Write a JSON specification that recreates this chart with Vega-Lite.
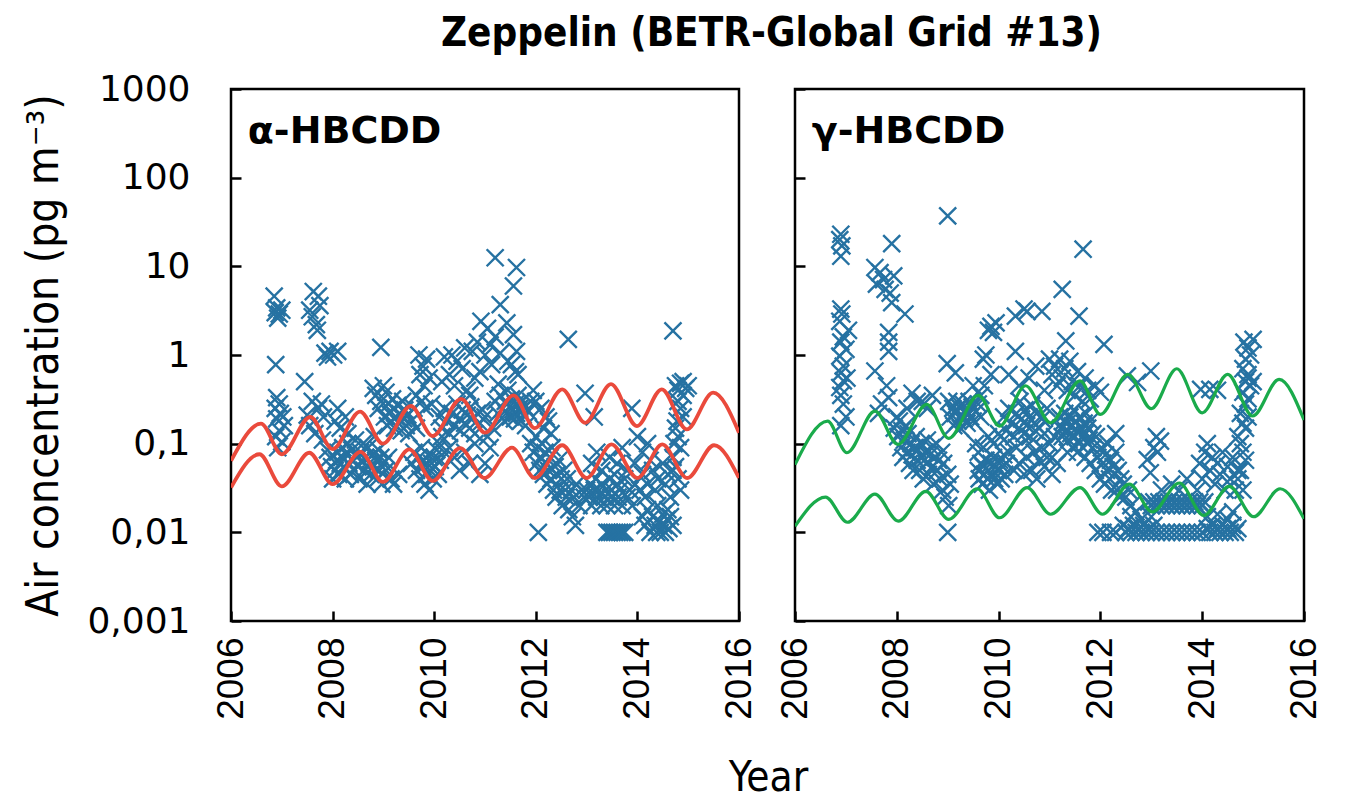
{
  "$schema": "https://vega.github.io/schema/vega-lite/v6.json",
  "background": "white",
  "padding": {"left": 21, "top": 13, "right": 10, "bottom": 0},
  "title": {"text": "Zeppelin (BETR-Global Grid #13)", "font": "'Liberation Sans Narrow', 'DejaVu Sans Condensed', sans-serif", "fontSize": 40, "fontWeight": "bold", "anchor": "middle", "offset": 16, "dx": 99, "color": "black"},
  "spacing": 56,
  "bounds": "flush",
  "datasets": {
    "obs": [
      {"p":"a","t":2006.85,"v":4.6},{"p":"a","t":2006.9,"v":3.4},{"p":"a","t":2006.87,"v":3.0},{"p":"a","t":2006.95,"v":2.9},{"p":"a","t":2006.92,"v":2.6},{"p":"a","t":2007.0,"v":3.2},{"p":"a","t":2006.88,"v":0.78},{"p":"a","t":2006.9,"v":0.33},{"p":"a","t":2006.95,"v":0.28},{"p":"a","t":2006.87,"v":0.25},{"p":"a","t":2006.97,"v":0.22},{"p":"a","t":2007.02,"v":0.2},{"p":"a","t":2006.9,"v":0.19},{"p":"a","t":2007.05,"v":0.16},{"p":"a","t":2006.95,"v":0.14},{"p":"a","t":2007.0,"v":0.105},{"p":"a","t":2006.92,"v":0.09},{"p":"a","t":2006.88,"v":0.12},
      {"p":"a","t":2007.55,"v":3.2},{"p":"a","t":2007.62,"v":5.2},{"p":"a","t":2007.72,"v":4.6},{"p":"a","t":2007.6,"v":2.7},{"p":"a","t":2007.75,"v":3.6},{"p":"a","t":2007.68,"v":2.2},{"p":"a","t":2007.7,"v":1.9},{"p":"a","t":2007.85,"v":1.05},{"p":"a","t":2007.9,"v":0.95},{"p":"a","t":2007.95,"v":1.1},{"p":"a","t":2008.02,"v":1.0},{"p":"a","t":2008.1,"v":1.1},{"p":"a","t":2007.45,"v":0.5},{"p":"a","t":2007.6,"v":0.3},{"p":"a","t":2007.72,"v":0.25},{"p":"a","t":2007.78,"v":0.28},{"p":"a","t":2007.82,"v":0.2},{"p":"a","t":2007.55,"v":0.16},{"p":"a","t":2007.65,"v":0.13},{"p":"a","t":2007.8,"v":0.11},{"p":"a","t":2007.9,"v":0.085},{"p":"a","t":2007.95,"v":0.07},{"p":"a","t":2007.98,"v":0.055},{"p":"a","t":2007.5,"v":0.21},
      {"p":"a","t":2008.0,"v":0.04},{"p":"a","t":2008.05,"v":0.05},{"p":"a","t":2008.08,"v":0.065},{"p":"a","t":2008.1,"v":0.08},{"p":"a","t":2008.12,"v":0.045},{"p":"a","t":2008.15,"v":0.06},{"p":"a","t":2008.18,"v":0.07},{"p":"a","t":2008.2,"v":0.09},{"p":"a","t":2008.22,"v":0.055},{"p":"a","t":2008.25,"v":0.04},{"p":"a","t":2008.28,"v":0.075},{"p":"a","t":2008.3,"v":0.1},{"p":"a","t":2008.32,"v":0.06},{"p":"a","t":2008.35,"v":0.045},{"p":"a","t":2008.38,"v":0.085},{"p":"a","t":2008.4,"v":0.065},{"p":"a","t":2008.42,"v":0.05},{"p":"a","t":2008.45,"v":0.11},{"p":"a","t":2008.48,"v":0.07},{"p":"a","t":2008.5,"v":0.055},{"p":"a","t":2008.52,"v":0.04},{"p":"a","t":2008.55,"v":0.08},{"p":"a","t":2008.58,"v":0.065},{"p":"a","t":2008.6,"v":0.1},{"p":"a","t":2008.62,"v":0.05},{"p":"a","t":2008.65,"v":0.07},{"p":"a","t":2008.68,"v":0.035},{"p":"a","t":2008.7,"v":0.09},{"p":"a","t":2008.72,"v":0.06},{"p":"a","t":2008.75,"v":0.045},{"p":"a","t":2008.78,"v":0.075},{"p":"a","t":2008.8,"v":0.055},{"p":"a","t":2008.82,"v":0.12},{"p":"a","t":2008.85,"v":0.065},{"p":"a","t":2008.88,"v":0.04},{"p":"a","t":2008.9,"v":0.085},{"p":"a","t":2008.92,"v":0.05},{"p":"a","t":2008.95,"v":0.07},{"p":"a","t":2008.97,"v":0.035},{"p":"a","t":2009.0,"v":0.06},
      {"p":"a","t":2008.05,"v":0.18},{"p":"a","t":2008.1,"v":0.25},{"p":"a","t":2008.15,"v":0.15},{"p":"a","t":2008.25,"v":0.2},{"p":"a","t":2008.3,"v":0.13},
      {"p":"a","t":2008.8,"v":0.42},{"p":"a","t":2008.85,"v":0.35},{"p":"a","t":2008.9,"v":0.25},{"p":"a","t":2008.95,"v":0.3},{"p":"a","t":2009.0,"v":0.45},{"p":"a","t":2009.02,"v":0.2},{"p":"a","t":2009.05,"v":0.38},{"p":"a","t":2009.08,"v":0.16},{"p":"a","t":2009.1,"v":0.28},{"p":"a","t":2009.12,"v":0.22},{"p":"a","t":2009.15,"v":0.18},{"p":"a","t":2009.18,"v":0.32},{"p":"a","t":2009.2,"v":0.25},{"p":"a","t":2009.22,"v":0.15},{"p":"a","t":2009.25,"v":0.2},{"p":"a","t":2009.28,"v":0.27},{"p":"a","t":2009.3,"v":0.17},{"p":"a","t":2009.32,"v":0.22},{"p":"a","t":2009.35,"v":0.14},{"p":"a","t":2009.38,"v":0.3},{"p":"a","t":2009.4,"v":0.19},{"p":"a","t":2009.42,"v":0.24},{"p":"a","t":2009.45,"v":0.16},{"p":"a","t":2009.48,"v":0.21},{"p":"a","t":2009.5,"v":0.13},{"p":"a","t":2009.55,"v":0.18},{"p":"a","t":2009.6,"v":0.25},{"p":"a","t":2009.65,"v":0.15},{"p":"a","t":2008.95,"v":1.22},
      {"p":"a","t":2009.05,"v":0.05},{"p":"a","t":2009.1,"v":0.07},{"p":"a","t":2009.15,"v":0.04},{"p":"a","t":2009.2,"v":0.035},{"p":"a","t":2009.3,"v":0.045},
      {"p":"a","t":2009.7,"v":1.0},{"p":"a","t":2009.85,"v":0.9},{"p":"a","t":2009.78,"v":0.75},{"p":"a","t":2009.72,"v":0.6},{"p":"a","t":2009.9,"v":0.55},{"p":"a","t":2009.8,"v":0.45},{"p":"a","t":2009.65,"v":0.35},{"p":"a","t":2009.75,"v":0.3},{"p":"a","t":2009.82,"v":0.25},{"p":"a","t":2009.95,"v":0.28},
      {"p":"a","t":2009.55,"v":0.06},{"p":"a","t":2009.6,"v":0.08},{"p":"a","t":2009.65,"v":0.05},{"p":"a","t":2009.7,"v":0.07},{"p":"a","t":2009.72,"v":0.04},{"p":"a","t":2009.75,"v":0.09},{"p":"a","t":2009.78,"v":0.055},{"p":"a","t":2009.8,"v":0.065},{"p":"a","t":2009.82,"v":0.035},{"p":"a","t":2009.85,"v":0.045},{"p":"a","t":2009.88,"v":0.075},{"p":"a","t":2009.9,"v":0.03},{"p":"a","t":2009.92,"v":0.05},{"p":"a","t":2009.95,"v":0.06},{"p":"a","t":2009.98,"v":0.04},{"p":"a","t":2010.0,"v":0.07},{"p":"a","t":2010.02,"v":0.055},{"p":"a","t":2010.05,"v":0.085},{"p":"a","t":2010.08,"v":0.045},{"p":"a","t":2010.1,"v":0.1},{"p":"a","t":2010.12,"v":0.065},{"p":"a","t":2010.15,"v":0.12},{"p":"a","t":2010.2,"v":0.08},
      {"p":"a","t":2010.2,"v":0.95},{"p":"a","t":2010.35,"v":1.0},{"p":"a","t":2010.45,"v":0.85},{"p":"a","t":2010.6,"v":1.2},{"p":"a","t":2010.75,"v":1.1},{"p":"a","t":2010.85,"v":1.4},{"p":"a","t":2010.92,"v":2.4},
      {"p":"a","t":2010.15,"v":0.5},{"p":"a","t":2010.3,"v":0.6},{"p":"a","t":2010.4,"v":0.45},{"p":"a","t":2010.55,"v":0.7},{"p":"a","t":2010.65,"v":0.4},{"p":"a","t":2010.8,"v":0.55},{"p":"a","t":2010.9,"v":0.65},{"p":"a","t":2010.7,"v":0.35},
      {"p":"a","t":2010.1,"v":0.2},{"p":"a","t":2010.15,"v":0.15},{"p":"a","t":2010.2,"v":0.25},{"p":"a","t":2010.25,"v":0.18},{"p":"a","t":2010.3,"v":0.13},{"p":"a","t":2010.35,"v":0.22},{"p":"a","t":2010.4,"v":0.16},{"p":"a","t":2010.45,"v":0.28},{"p":"a","t":2010.5,"v":0.19},{"p":"a","t":2010.52,"v":0.14},{"p":"a","t":2010.55,"v":0.24},{"p":"a","t":2010.6,"v":0.17},{"p":"a","t":2010.65,"v":0.21},{"p":"a","t":2010.7,"v":0.15},{"p":"a","t":2010.72,"v":0.26},{"p":"a","t":2010.75,"v":0.19},{"p":"a","t":2010.8,"v":0.13},{"p":"a","t":2010.85,"v":0.22},{"p":"a","t":2010.9,"v":0.17},{"p":"a","t":2010.95,"v":0.24},{"p":"a","t":2011.0,"v":0.2},
      {"p":"a","t":2010.3,"v":0.09},{"p":"a","t":2010.4,"v":0.07},{"p":"a","t":2010.5,"v":0.05},{"p":"a","t":2010.6,"v":0.08},{"p":"a","t":2010.7,"v":0.06},{"p":"a","t":2010.8,"v":0.1},{"p":"a","t":2010.9,"v":0.045},
      {"p":"a","t":2011.2,"v":12.5},{"p":"a","t":2011.62,"v":9.7},{"p":"a","t":2011.56,"v":6.0},{"p":"a","t":2011.3,"v":3.7},{"p":"a","t":2011.43,"v":2.3},{"p":"a","t":2011.2,"v":1.6},{"p":"a","t":2011.56,"v":1.7},{"p":"a","t":2011.62,"v":1.1},{"p":"a","t":2011.13,"v":0.78},{"p":"a","t":2011.52,"v":0.78},{"p":"a","t":2011.26,"v":0.47},{"p":"a","t":2011.65,"v":0.6},{"p":"a","t":2011.05,"v":2.0},{"p":"a","t":2011.1,"v":1.3},{"p":"a","t":2011.0,"v":1.0},{"p":"a","t":2011.3,"v":1.05},{"p":"a","t":2011.45,"v":0.85},{"p":"a","t":2011.6,"v":0.65},
      {"p":"a","t":2011.2,"v":0.3},{"p":"a","t":2011.25,"v":0.22},{"p":"a","t":2011.3,"v":0.35},{"p":"a","t":2011.35,"v":0.25},{"p":"a","t":2011.38,"v":0.18},{"p":"a","t":2011.4,"v":0.3},{"p":"a","t":2011.42,"v":0.22},{"p":"a","t":2011.45,"v":0.4},{"p":"a","t":2011.48,"v":0.26},{"p":"a","t":2011.5,"v":0.2},{"p":"a","t":2011.52,"v":0.32},{"p":"a","t":2011.55,"v":0.24},{"p":"a","t":2011.58,"v":0.19},{"p":"a","t":2011.6,"v":0.28},{"p":"a","t":2011.62,"v":0.22},{"p":"a","t":2011.65,"v":0.35},{"p":"a","t":2011.68,"v":0.25},{"p":"a","t":2011.7,"v":0.18},{"p":"a","t":2011.72,"v":0.3},{"p":"a","t":2011.75,"v":0.21},{"p":"a","t":2011.78,"v":0.26},{"p":"a","t":2011.8,"v":0.16},{"p":"a","t":2011.85,"v":0.23},{"p":"a","t":2011.9,"v":0.3},
      {"p":"a","t":2011.05,"v":0.12},{"p":"a","t":2011.1,"v":0.09},{"p":"a","t":2011.15,"v":0.15},{"p":"a","t":2011.0,"v":0.06},
      {"p":"a","t":2011.95,"v":0.4},{"p":"a","t":2012.0,"v":0.3},{"p":"a","t":2012.1,"v":0.25},{"p":"a","t":2012.2,"v":0.2},{"p":"a","t":2012.64,"v":1.5},{"p":"a","t":2012.97,"v":0.37},{"p":"a","t":2013.15,"v":0.2},
      {"p":"a","t":2011.9,"v":0.1},{"p":"a","t":2011.95,"v":0.08},{"p":"a","t":2012.0,"v":0.12},{"p":"a","t":2012.02,"v":0.06},{"p":"a","t":2012.05,"v":0.09},{"p":"a","t":2012.08,"v":0.05},{"p":"a","t":2012.1,"v":0.07},{"p":"a","t":2012.12,"v":0.1},{"p":"a","t":2012.15,"v":0.045},{"p":"a","t":2012.18,"v":0.08},{"p":"a","t":2012.2,"v":0.06},{"p":"a","t":2012.22,"v":0.035},{"p":"a","t":2012.25,"v":0.05},{"p":"a","t":2012.28,"v":0.07},{"p":"a","t":2012.3,"v":0.04},{"p":"a","t":2012.32,"v":0.09},{"p":"a","t":2012.35,"v":0.03},{"p":"a","t":2012.38,"v":0.055},{"p":"a","t":2012.4,"v":0.025},{"p":"a","t":2012.42,"v":0.045},{"p":"a","t":2012.45,"v":0.065},{"p":"a","t":2012.48,"v":0.03},{"p":"a","t":2012.5,"v":0.04},{"p":"a","t":2012.52,"v":0.02},{"p":"a","t":2012.55,"v":0.05},{"p":"a","t":2012.58,"v":0.03},{"p":"a","t":2012.6,"v":0.025},{"p":"a","t":2012.62,"v":0.04},{"p":"a","t":2012.65,"v":0.018},{"p":"a","t":2012.7,"v":0.03},{"p":"a","t":2012.72,"v":0.015},{"p":"a","t":2012.75,"v":0.025},{"p":"a","t":2012.78,"v":0.012},{"p":"a","t":2012.8,"v":0.035},{"p":"a","t":2012.85,"v":0.02},{"p":"a","t":2012.9,"v":0.03},{"p":"a","t":2012.95,"v":0.025},{"p":"a","t":2012.05,"v":0.01},{"p":"a","t":2012.15,"v":0.15},{"p":"a","t":2012.3,"v":0.13},{"p":"a","t":2012.25,"v":0.18},
      {"p":"a","t":2013.0,"v":0.03},{"p":"a","t":2013.05,"v":0.025},{"p":"a","t":2013.08,"v":0.035},{"p":"a","t":2013.1,"v":0.02},{"p":"a","t":2013.15,"v":0.03},{"p":"a","t":2013.18,"v":0.04},{"p":"a","t":2013.2,"v":0.025},{"p":"a","t":2013.25,"v":0.03},{"p":"a","t":2013.28,"v":0.02},{"p":"a","t":2013.3,"v":0.035},{"p":"a","t":2013.35,"v":0.025},{"p":"a","t":2013.38,"v":0.03},{"p":"a","t":2013.4,"v":0.02},{"p":"a","t":2013.45,"v":0.04},{"p":"a","t":2013.48,"v":0.025},{"p":"a","t":2013.5,"v":0.03},{"p":"a","t":2013.55,"v":0.02},{"p":"a","t":2013.6,"v":0.035},{"p":"a","t":2013.62,"v":0.025},{"p":"a","t":2013.65,"v":0.03},{"p":"a","t":2013.7,"v":0.02},{"p":"a","t":2013.75,"v":0.04},{"p":"a","t":2013.8,"v":0.025},{"p":"a","t":2013.85,"v":0.03},{"p":"a","t":2013.9,"v":0.02},{"p":"a","t":2013.95,"v":0.035},
      {"p":"a","t":2013.4,"v":0.01},{"p":"a","t":2013.45,"v":0.01},{"p":"a","t":2013.5,"v":0.01},{"p":"a","t":2013.55,"v":0.01},{"p":"a","t":2013.6,"v":0.01},{"p":"a","t":2013.65,"v":0.01},{"p":"a","t":2013.7,"v":0.01},{"p":"a","t":2013.75,"v":0.01},
      {"p":"a","t":2013.1,"v":0.06},{"p":"a","t":2013.2,"v":0.08},{"p":"a","t":2013.3,"v":0.05},{"p":"a","t":2013.45,"v":0.07},{"p":"a","t":2013.6,"v":0.06},{"p":"a","t":2013.7,"v":0.09},{"p":"a","t":2013.8,"v":0.05},{"p":"a","t":2013.89,"v":0.25},{"p":"a","t":2014.0,"v":0.12},{"p":"a","t":2013.55,"v":0.045},{"p":"a","t":2013.95,"v":0.06},
      {"p":"a","t":2014.1,"v":0.015},{"p":"a","t":2014.15,"v":0.012},{"p":"a","t":2014.2,"v":0.018},{"p":"a","t":2014.25,"v":0.01},{"p":"a","t":2014.3,"v":0.015},{"p":"a","t":2014.35,"v":0.012},{"p":"a","t":2014.38,"v":0.01},{"p":"a","t":2014.4,"v":0.02},{"p":"a","t":2014.42,"v":0.013},{"p":"a","t":2014.45,"v":0.01},{"p":"a","t":2014.5,"v":0.016},{"p":"a","t":2014.52,"v":0.012},{"p":"a","t":2014.55,"v":0.01},{"p":"a","t":2014.58,"v":0.014},{"p":"a","t":2014.6,"v":0.018},{"p":"a","t":2014.62,"v":0.011},{"p":"a","t":2014.65,"v":0.015},{"p":"a","t":2014.7,"v":0.012},
      {"p":"a","t":2014.05,"v":0.03},{"p":"a","t":2014.1,"v":0.045},{"p":"a","t":2014.15,"v":0.025},{"p":"a","t":2014.2,"v":0.035},{"p":"a","t":2014.3,"v":0.05},{"p":"a","t":2014.35,"v":0.03},{"p":"a","t":2014.4,"v":0.04},{"p":"a","t":2014.5,"v":0.06},{"p":"a","t":2014.55,"v":0.035},{"p":"a","t":2014.6,"v":0.045},{"p":"a","t":2014.65,"v":0.025},{"p":"a","t":2014.7,"v":0.05},{"p":"a","t":2014.1,"v":0.08},{"p":"a","t":2014.2,"v":0.1},{"p":"a","t":2014.25,"v":0.065},
      {"p":"a","t":2014.7,"v":1.87},{"p":"a","t":2014.75,"v":0.45},{"p":"a","t":2014.8,"v":0.4},{"p":"a","t":2014.85,"v":0.48},{"p":"a","t":2014.9,"v":0.35},{"p":"a","t":2014.95,"v":0.42},{"p":"a","t":2014.8,"v":0.3},{"p":"a","t":2014.85,"v":0.25},{"p":"a","t":2014.9,"v":0.2},{"p":"a","t":2014.75,"v":0.15},{"p":"a","t":2014.8,"v":0.12},{"p":"a","t":2014.85,"v":0.09},{"p":"a","t":2014.7,"v":0.07},{"p":"a","t":2014.75,"v":0.055},{"p":"a","t":2014.8,"v":0.04},{"p":"a","t":2014.85,"v":0.03},{"p":"a","t":2014.9,"v":0.5},{"p":"a","t":2015.0,"v":0.45},{"p":"a","t":2014.78,"v":0.18},{"p":"a","t":2014.72,"v":0.1},
      {"p":"g","t":2006.9,"v":23},{"p":"g","t":2006.88,"v":20},{"p":"g","t":2006.92,"v":17},{"p":"g","t":2006.9,"v":13},{"p":"g","t":2006.9,"v":3.3},{"p":"g","t":2006.92,"v":2.9},{"p":"g","t":2006.88,"v":2.4},{"p":"g","t":2006.95,"v":1.6},{"p":"g","t":2006.9,"v":1.4},{"p":"g","t":2007.0,"v":1.16},{"p":"g","t":2006.88,"v":0.97},{"p":"g","t":2006.95,"v":0.75},{"p":"g","t":2006.9,"v":0.63},{"p":"g","t":2006.95,"v":0.51},{"p":"g","t":2006.88,"v":0.43},{"p":"g","t":2006.9,"v":0.35},{"p":"g","t":2006.95,"v":0.28},{"p":"g","t":2007.0,"v":0.2},{"p":"g","t":2006.9,"v":0.16},{"p":"g","t":2007.05,"v":1.9},{"p":"g","t":2007.02,"v":0.55},
      {"p":"g","t":2007.9,"v":18},{"p":"g","t":2007.57,"v":9.7},{"p":"g","t":2007.67,"v":8.5},{"p":"g","t":2007.74,"v":7.1},{"p":"g","t":2007.6,"v":6.3},{"p":"g","t":2007.77,"v":5.5},{"p":"g","t":2007.87,"v":5.0},{"p":"g","t":2007.94,"v":7.8},{"p":"g","t":2007.9,"v":3.9},{"p":"g","t":2008.16,"v":2.9},{"p":"g","t":2007.84,"v":1.8},{"p":"g","t":2007.84,"v":1.4},{"p":"g","t":2007.84,"v":1.1},{"p":"g","t":2007.57,"v":0.66},{"p":"g","t":2007.84,"v":0.33},{"p":"g","t":2007.64,"v":0.22},{"p":"g","t":2007.8,"v":0.45},{"p":"g","t":2007.7,"v":0.28},
      {"p":"g","t":2009.0,"v":37},{"p":"g","t":2008.99,"v":0.8},{"p":"g","t":2009.15,"v":0.63},{"p":"g","t":2008.3,"v":0.37},{"p":"g","t":2008.5,"v":0.3},{"p":"g","t":2008.4,"v":0.3},{"p":"g","t":2008.6,"v":0.25},{"p":"g","t":2008.7,"v":0.35},{"p":"g","t":2008.2,"v":0.25},
      {"p":"g","t":2007.95,"v":0.15},{"p":"g","t":2008.0,"v":0.2},{"p":"g","t":2008.02,"v":0.12},{"p":"g","t":2008.05,"v":0.18},{"p":"g","t":2008.08,"v":0.09},{"p":"g","t":2008.1,"v":0.14},{"p":"g","t":2008.12,"v":0.07},{"p":"g","t":2008.15,"v":0.11},{"p":"g","t":2008.18,"v":0.16},{"p":"g","t":2008.2,"v":0.08},{"p":"g","t":2008.22,"v":0.13},{"p":"g","t":2008.25,"v":0.06},{"p":"g","t":2008.28,"v":0.1},{"p":"g","t":2008.3,"v":0.075},{"p":"g","t":2008.32,"v":0.05},{"p":"g","t":2008.35,"v":0.09},{"p":"g","t":2008.38,"v":0.12},{"p":"g","t":2008.4,"v":0.065},{"p":"g","t":2008.42,"v":0.085},{"p":"g","t":2008.45,"v":0.05},{"p":"g","t":2008.48,"v":0.1},{"p":"g","t":2008.5,"v":0.07},{"p":"g","t":2008.52,"v":0.04},{"p":"g","t":2008.55,"v":0.08},{"p":"g","t":2008.58,"v":0.06},{"p":"g","t":2008.6,"v":0.11},{"p":"g","t":2008.62,"v":0.045},{"p":"g","t":2008.65,"v":0.075},{"p":"g","t":2008.68,"v":0.09},{"p":"g","t":2008.7,"v":0.055},{"p":"g","t":2008.72,"v":0.035},{"p":"g","t":2008.75,"v":0.07},{"p":"g","t":2008.78,"v":0.1},{"p":"g","t":2008.8,"v":0.05},{"p":"g","t":2008.82,"v":0.065},{"p":"g","t":2008.85,"v":0.04},{"p":"g","t":2008.88,"v":0.08},{"p":"g","t":2008.9,"v":0.03},{"p":"g","t":2008.92,"v":0.06},{"p":"g","t":2008.95,"v":0.025},{"p":"g","t":2009.0,"v":0.045},{"p":"g","t":2009.02,"v":0.02},{"p":"g","t":2009.05,"v":0.035},{"p":"g","t":2009.0,"v":0.01},
      {"p":"g","t":2009.02,"v":0.3},{"p":"g","t":2009.05,"v":0.2},{"p":"g","t":2009.1,"v":0.25},{"p":"g","t":2009.12,"v":0.16},{"p":"g","t":2009.15,"v":0.22},{"p":"g","t":2009.18,"v":0.3},{"p":"g","t":2009.2,"v":0.18},{"p":"g","t":2009.22,"v":0.26},{"p":"g","t":2009.25,"v":0.15},{"p":"g","t":2009.28,"v":0.21},{"p":"g","t":2009.3,"v":0.28},{"p":"g","t":2009.32,"v":0.19},{"p":"g","t":2009.35,"v":0.24},{"p":"g","t":2009.38,"v":0.17},{"p":"g","t":2009.4,"v":0.22},{"p":"g","t":2009.42,"v":0.3},{"p":"g","t":2009.45,"v":0.2},{"p":"g","t":2009.48,"v":0.26},{"p":"g","t":2009.5,"v":0.18},{"p":"g","t":2009.55,"v":0.23},{"p":"g","t":2009.6,"v":0.28},{"p":"g","t":2009.65,"v":0.2},
      {"p":"g","t":2009.6,"v":0.05},{"p":"g","t":2009.62,"v":0.04},{"p":"g","t":2009.65,"v":0.06},{"p":"g","t":2009.68,"v":0.035},{"p":"g","t":2009.7,"v":0.055},{"p":"g","t":2009.72,"v":0.045},{"p":"g","t":2009.75,"v":0.065},{"p":"g","t":2009.78,"v":0.04},{"p":"g","t":2009.8,"v":0.05},{"p":"g","t":2009.82,"v":0.03},{"p":"g","t":2009.85,"v":0.06},{"p":"g","t":2009.88,"v":0.045},{"p":"g","t":2009.9,"v":0.07},{"p":"g","t":2009.92,"v":0.04},{"p":"g","t":2009.95,"v":0.055},{"p":"g","t":2009.98,"v":0.035},{"p":"g","t":2010.0,"v":0.05},{"p":"g","t":2010.02,"v":0.065},{"p":"g","t":2010.05,"v":0.04},{"p":"g","t":2010.08,"v":0.055},{"p":"g","t":2010.1,"v":0.075},{"p":"g","t":2010.12,"v":0.045},{"p":"g","t":2010.15,"v":0.06},
      {"p":"g","t":2009.55,"v":0.1},{"p":"g","t":2009.7,"v":0.09},{"p":"g","t":2009.8,"v":0.12},{"p":"g","t":2009.9,"v":0.1},{"p":"g","t":2010.0,"v":0.13},{"p":"g","t":2010.1,"v":0.11},{"p":"g","t":2009.6,"v":0.08},
      {"p":"g","t":2009.8,"v":1.9},{"p":"g","t":2009.85,"v":2.1},{"p":"g","t":2009.9,"v":1.8},{"p":"g","t":2009.75,"v":1.0},{"p":"g","t":2009.95,"v":2.3},{"p":"g","t":2009.7,"v":0.9},{"p":"g","t":2009.72,"v":0.45},{"p":"g","t":2009.65,"v":0.35},{"p":"g","t":2009.85,"v":0.6},{"p":"g","t":2009.5,"v":0.45},
      {"p":"g","t":2010.33,"v":2.75},{"p":"g","t":2010.5,"v":3.3},{"p":"g","t":2010.56,"v":3.1},{"p":"g","t":2010.85,"v":3.1},{"p":"g","t":2010.33,"v":1.1},{"p":"g","t":2010.73,"v":0.75},{"p":"g","t":2010.6,"v":0.55},{"p":"g","t":2010.4,"v":0.45},{"p":"g","t":2010.9,"v":0.4},{"p":"g","t":2010.2,"v":0.6},
      {"p":"g","t":2010.1,"v":0.2},{"p":"g","t":2010.15,"v":0.14},{"p":"g","t":2010.2,"v":0.25},{"p":"g","t":2010.25,"v":0.17},{"p":"g","t":2010.3,"v":0.12},{"p":"g","t":2010.35,"v":0.22},{"p":"g","t":2010.4,"v":0.15},{"p":"g","t":2010.42,"v":0.3},{"p":"g","t":2010.45,"v":0.19},{"p":"g","t":2010.5,"v":0.13},{"p":"g","t":2010.52,"v":0.24},{"p":"g","t":2010.55,"v":0.16},{"p":"g","t":2010.6,"v":0.2},{"p":"g","t":2010.62,"v":0.12},{"p":"g","t":2010.65,"v":0.27},{"p":"g","t":2010.7,"v":0.17},{"p":"g","t":2010.72,"v":0.14},{"p":"g","t":2010.75,"v":0.22},{"p":"g","t":2010.8,"v":0.15},{"p":"g","t":2010.85,"v":0.19},{"p":"g","t":2010.9,"v":0.13},{"p":"g","t":2010.95,"v":0.25},
      {"p":"g","t":2010.2,"v":0.08},{"p":"g","t":2010.3,"v":0.05},{"p":"g","t":2010.35,"v":0.09},{"p":"g","t":2010.4,"v":0.06},{"p":"g","t":2010.5,"v":0.045},{"p":"g","t":2010.55,"v":0.07},{"p":"g","t":2010.6,"v":0.1},{"p":"g","t":2010.65,"v":0.05},{"p":"g","t":2010.7,"v":0.08},{"p":"g","t":2010.75,"v":0.04},{"p":"g","t":2010.8,"v":0.065},{"p":"g","t":2010.85,"v":0.09},{"p":"g","t":2010.9,"v":0.055},{"p":"g","t":2010.95,"v":0.07},
      {"p":"g","t":2011.66,"v":15.6},{"p":"g","t":2011.25,"v":5.5},{"p":"g","t":2011.58,"v":2.75},{"p":"g","t":2012.07,"v":1.32},{"p":"g","t":2011.32,"v":1.44},
      {"p":"g","t":2011.0,"v":0.9},{"p":"g","t":2011.05,"v":0.6},{"p":"g","t":2011.1,"v":0.75},{"p":"g","t":2011.15,"v":0.45},{"p":"g","t":2011.2,"v":0.9},{"p":"g","t":2011.25,"v":0.55},{"p":"g","t":2011.3,"v":0.7},{"p":"g","t":2011.35,"v":0.4},{"p":"g","t":2011.4,"v":0.85},{"p":"g","t":2011.45,"v":0.5},{"p":"g","t":2011.5,"v":0.35},{"p":"g","t":2011.55,"v":0.65},{"p":"g","t":2011.6,"v":0.45},{"p":"g","t":2011.65,"v":0.3},{"p":"g","t":2011.7,"v":0.55},{"p":"g","t":2011.75,"v":0.4},{"p":"g","t":2011.8,"v":0.32},{"p":"g","t":2011.9,"v":0.45},{"p":"g","t":2012.0,"v":0.38},
      {"p":"g","t":2011.2,"v":0.2},{"p":"g","t":2011.22,"v":0.15},{"p":"g","t":2011.25,"v":0.12},{"p":"g","t":2011.28,"v":0.18},{"p":"g","t":2011.3,"v":0.22},{"p":"g","t":2011.32,"v":0.14},{"p":"g","t":2011.35,"v":0.17},{"p":"g","t":2011.38,"v":0.11},{"p":"g","t":2011.4,"v":0.2},{"p":"g","t":2011.42,"v":0.13},{"p":"g","t":2011.45,"v":0.16},{"p":"g","t":2011.48,"v":0.24},{"p":"g","t":2011.5,"v":0.12},{"p":"g","t":2011.52,"v":0.18},{"p":"g","t":2011.55,"v":0.14},{"p":"g","t":2011.58,"v":0.1},{"p":"g","t":2011.6,"v":0.2},{"p":"g","t":2011.62,"v":0.15},{"p":"g","t":2011.65,"v":0.12},{"p":"g","t":2011.68,"v":0.17},{"p":"g","t":2011.7,"v":0.13},{"p":"g","t":2011.72,"v":0.22},{"p":"g","t":2011.75,"v":0.15},{"p":"g","t":2011.78,"v":0.11},{"p":"g","t":2011.8,"v":0.18},{"p":"g","t":2011.85,"v":0.13},{"p":"g","t":2011.45,"v":0.09},{"p":"g","t":2011.55,"v":0.08},{"p":"g","t":2011.35,"v":0.08},
      {"p":"g","t":2011.0,"v":0.1},{"p":"g","t":2011.05,"v":0.07},{"p":"g","t":2011.1,"v":0.12},{"p":"g","t":2011.15,"v":0.06},{"p":"g","t":2011.05,"v":0.045},
      {"p":"g","t":2011.7,"v":0.07},{"p":"g","t":2011.75,"v":0.1},{"p":"g","t":2011.8,"v":0.06},{"p":"g","t":2011.85,"v":0.09},{"p":"g","t":2011.9,"v":0.05},{"p":"g","t":2011.92,"v":0.12},{"p":"g","t":2011.95,"v":0.07},{"p":"g","t":2012.0,"v":0.04},{"p":"g","t":2012.02,"v":0.09},{"p":"g","t":2012.05,"v":0.06},{"p":"g","t":2012.08,"v":0.035},{"p":"g","t":2012.1,"v":0.075},{"p":"g","t":2012.12,"v":0.05},{"p":"g","t":2012.15,"v":0.1},{"p":"g","t":2012.18,"v":0.04},{"p":"g","t":2012.2,"v":0.065},{"p":"g","t":2012.22,"v":0.03},{"p":"g","t":2012.25,"v":0.055},{"p":"g","t":2012.28,"v":0.045},{"p":"g","t":2012.3,"v":0.08},{"p":"g","t":2012.32,"v":0.03},{"p":"g","t":2012.35,"v":0.05},{"p":"g","t":2012.38,"v":0.025},{"p":"g","t":2012.4,"v":0.04},{"p":"g","t":2012.45,"v":0.035},{"p":"g","t":2012.5,"v":0.025},{"p":"g","t":2012.55,"v":0.03},{"p":"g","t":2012.6,"v":0.02},{"p":"g","t":2012.3,"v":0.13},
      {"p":"g","t":2011.95,"v":0.01},{"p":"g","t":2012.05,"v":0.01},{"p":"g","t":2012.2,"v":0.01},{"p":"g","t":2012.3,"v":0.01},{"p":"g","t":2012.45,"v":0.012},
      {"p":"g","t":2012.53,"v":0.58},{"p":"g","t":2012.99,"v":0.66},{"p":"g","t":2012.73,"v":0.49},{"p":"g","t":2013.18,"v":0.107},{"p":"g","t":2013.12,"v":0.08},{"p":"g","t":2012.92,"v":0.066},{"p":"g","t":2012.98,"v":0.047},{"p":"g","t":2013.05,"v":0.09},{"p":"g","t":2013.1,"v":0.12},
      {"p":"g","t":2012.95,"v":0.022},{"p":"g","t":2013.0,"v":0.02},{"p":"g","t":2013.05,"v":0.022},{"p":"g","t":2013.1,"v":0.02},{"p":"g","t":2013.15,"v":0.022},{"p":"g","t":2013.2,"v":0.02},{"p":"g","t":2013.25,"v":0.022},{"p":"g","t":2013.3,"v":0.02},{"p":"g","t":2013.35,"v":0.022},{"p":"g","t":2013.4,"v":0.02},{"p":"g","t":2013.45,"v":0.022},{"p":"g","t":2013.5,"v":0.02},{"p":"g","t":2013.55,"v":0.022},{"p":"g","t":2013.6,"v":0.02},{"p":"g","t":2013.65,"v":0.022},{"p":"g","t":2013.7,"v":0.02},{"p":"g","t":2013.75,"v":0.022},{"p":"g","t":2013.8,"v":0.02},{"p":"g","t":2013.85,"v":0.022},{"p":"g","t":2013.9,"v":0.02},{"p":"g","t":2013.95,"v":0.022},{"p":"g","t":2014.0,"v":0.02},{"p":"g","t":2014.05,"v":0.022},
      {"p":"g","t":2012.5,"v":0.01},{"p":"g","t":2012.55,"v":0.011},{"p":"g","t":2012.6,"v":0.01},{"p":"g","t":2012.65,"v":0.012},{"p":"g","t":2012.7,"v":0.01},{"p":"g","t":2012.75,"v":0.011},{"p":"g","t":2012.8,"v":0.01},{"p":"g","t":2012.85,"v":0.012},{"p":"g","t":2012.9,"v":0.01},{"p":"g","t":2012.95,"v":0.011},{"p":"g","t":2013.0,"v":0.01},{"p":"g","t":2013.05,"v":0.012},{"p":"g","t":2013.1,"v":0.01},{"p":"g","t":2013.2,"v":0.01},{"p":"g","t":2013.3,"v":0.01},{"p":"g","t":2013.4,"v":0.01},{"p":"g","t":2013.5,"v":0.01},{"p":"g","t":2013.6,"v":0.01},{"p":"g","t":2013.7,"v":0.01},{"p":"g","t":2013.8,"v":0.01},{"p":"g","t":2013.9,"v":0.01},{"p":"g","t":2014.0,"v":0.01},{"p":"g","t":2014.1,"v":0.011},{"p":"g","t":2014.15,"v":0.01},{"p":"g","t":2014.2,"v":0.012},{"p":"g","t":2014.25,"v":0.01},{"p":"g","t":2014.3,"v":0.011},{"p":"g","t":2014.35,"v":0.01},{"p":"g","t":2014.4,"v":0.012},{"p":"g","t":2014.45,"v":0.01},{"p":"g","t":2014.5,"v":0.011},{"p":"g","t":2014.55,"v":0.01},{"p":"g","t":2014.6,"v":0.012},{"p":"g","t":2014.65,"v":0.01},{"p":"g","t":2014.7,"v":0.011},
      {"p":"g","t":2012.6,"v":0.015},{"p":"g","t":2012.7,"v":0.017},{"p":"g","t":2012.8,"v":0.014},{"p":"g","t":2013.0,"v":0.015},{"p":"g","t":2014.1,"v":0.015},{"p":"g","t":2014.3,"v":0.016},{"p":"g","t":2014.5,"v":0.014},{"p":"g","t":2014.6,"v":0.017},
      {"p":"g","t":2013.2,"v":0.03},{"p":"g","t":2013.4,"v":0.035},{"p":"g","t":2013.55,"v":0.03},{"p":"g","t":2013.7,"v":0.04},{"p":"g","t":2013.9,"v":0.03},
      {"p":"g","t":2013.95,"v":0.06},{"p":"g","t":2014.0,"v":0.04},{"p":"g","t":2014.05,"v":0.08},{"p":"g","t":2014.1,"v":0.1},{"p":"g","t":2014.15,"v":0.05},{"p":"g","t":2014.2,"v":0.07},{"p":"g","t":2014.25,"v":0.035},{"p":"g","t":2014.3,"v":0.06},{"p":"g","t":2014.35,"v":0.045},{"p":"g","t":2014.4,"v":0.08},{"p":"g","t":2014.45,"v":0.03},{"p":"g","t":2014.5,"v":0.055},{"p":"g","t":2014.55,"v":0.04},{"p":"g","t":2014.6,"v":0.07},{"p":"g","t":2014.65,"v":0.03},{"p":"g","t":2014.7,"v":0.05},
      {"p":"g","t":2013.97,"v":0.41},{"p":"g","t":2014.3,"v":0.4},{"p":"g","t":2014.15,"v":0.41},
      {"p":"g","t":2014.82,"v":1.4},{"p":"g","t":2014.9,"v":1.2},{"p":"g","t":2014.95,"v":1.0},{"p":"g","t":2014.85,"v":0.9},{"p":"g","t":2015.0,"v":1.5},{"p":"g","t":2014.8,"v":0.7},{"p":"g","t":2014.9,"v":0.6},{"p":"g","t":2014.85,"v":0.5},{"p":"g","t":2014.95,"v":0.45},{"p":"g","t":2014.8,"v":0.38},{"p":"g","t":2014.9,"v":0.32},{"p":"g","t":2014.85,"v":0.28},{"p":"g","t":2014.75,"v":0.22},{"p":"g","t":2014.9,"v":0.2},{"p":"g","t":2014.8,"v":0.17},{"p":"g","t":2014.85,"v":0.15},{"p":"g","t":2014.7,"v":0.12},{"p":"g","t":2014.75,"v":0.1},{"p":"g","t":2014.8,"v":0.08},{"p":"g","t":2014.85,"v":0.065},{"p":"g","t":2014.75,"v":0.05},{"p":"g","t":2014.7,"v":0.04},{"p":"g","t":2014.8,"v":0.03},{"p":"g","t":2014.9,"v":0.55},{"p":"g","t":2015.0,"v":0.5}
    ],
    "model": [
      {"p":"a","s":"hi","t":2006.0,"v":0.064},{"p":"a","s":"hi","t":2006.59,"v":0.168},{"p":"a","s":"hi","t":2007.0,"v":0.076},{"p":"a","s":"hi","t":2007.56,"v":0.2},{"p":"a","s":"hi","t":2008.0,"v":0.087},{"p":"a","s":"hi","t":2008.54,"v":0.23},{"p":"a","s":"hi","t":2008.99,"v":0.1},{"p":"a","s":"hi","t":2009.54,"v":0.266},{"p":"a","s":"hi","t":2009.97,"v":0.122},{"p":"a","s":"hi","t":2010.53,"v":0.32},{"p":"a","s":"hi","t":2011.0,"v":0.133},{"p":"a","s":"hi","t":2011.56,"v":0.35},{"p":"a","s":"hi","t":2011.98,"v":0.15},{"p":"a","s":"hi","t":2012.52,"v":0.41},{"p":"a","s":"hi","t":2012.97,"v":0.172},{"p":"a","s":"hi","t":2013.48,"v":0.47},{"p":"a","s":"hi","t":2013.99,"v":0.158},{"p":"a","s":"hi","t":2014.48,"v":0.41},{"p":"a","s":"hi","t":2014.97,"v":0.145},{"p":"a","s":"hi","t":2015.49,"v":0.376},{"p":"a","s":"hi","t":2016.0,"v":0.133},
      {"p":"a","s":"lo","t":2006.0,"v":0.032},{"p":"a","s":"lo","t":2006.56,"v":0.076},{"p":"a","s":"lo","t":2007.0,"v":0.033},{"p":"a","s":"lo","t":2007.54,"v":0.079},{"p":"a","s":"lo","t":2008.0,"v":0.035},{"p":"a","s":"lo","t":2008.55,"v":0.081},{"p":"a","s":"lo","t":2008.99,"v":0.037},{"p":"a","s":"lo","t":2009.51,"v":0.086},{"p":"a","s":"lo","t":2009.97,"v":0.038},{"p":"a","s":"lo","t":2010.51,"v":0.089},{"p":"a","s":"lo","t":2010.99,"v":0.041},{"p":"a","s":"lo","t":2011.53,"v":0.09},{"p":"a","s":"lo","t":2011.98,"v":0.041},{"p":"a","s":"lo","t":2012.52,"v":0.096},{"p":"a","s":"lo","t":2013.0,"v":0.041},{"p":"a","s":"lo","t":2013.49,"v":0.098},{"p":"a","s":"lo","t":2014.0,"v":0.041},{"p":"a","s":"lo","t":2014.49,"v":0.098},{"p":"a","s":"lo","t":2014.98,"v":0.041},{"p":"a","s":"lo","t":2015.51,"v":0.096},{"p":"a","s":"lo","t":2016.0,"v":0.041},
      {"p":"g","s":"hi","t":2006.0,"v":0.058},{"p":"g","s":"hi","t":2006.64,"v":0.18},{"p":"g","s":"hi","t":2007.02,"v":0.079},{"p":"g","s":"hi","t":2007.57,"v":0.233},{"p":"g","s":"hi","t":2008.02,"v":0.098},{"p":"g","s":"hi","t":2008.59,"v":0.277},{"p":"g","s":"hi","t":2009.02,"v":0.115},{"p":"g","s":"hi","t":2009.6,"v":0.35},{"p":"g","s":"hi","t":2010.02,"v":0.158},{"p":"g","s":"hi","t":2010.53,"v":0.45},{"p":"g","s":"hi","t":2011.02,"v":0.172},{"p":"g","s":"hi","t":2011.6,"v":0.51},{"p":"g","s":"hi","t":2012.0,"v":0.214},{"p":"g","s":"hi","t":2012.54,"v":0.605},{"p":"g","s":"hi","t":2013.0,"v":0.248},{"p":"g","s":"hi","t":2013.5,"v":0.7},{"p":"g","s":"hi","t":2014.0,"v":0.223},{"p":"g","s":"hi","t":2014.5,"v":0.605},{"p":"g","s":"hi","t":2014.99,"v":0.205},{"p":"g","s":"hi","t":2015.51,"v":0.53},{"p":"g","s":"hi","t":2016.0,"v":0.185},
      {"p":"g","s":"lo","t":2006.0,"v":0.0117},{"p":"g","s":"lo","t":2006.6,"v":0.025},{"p":"g","s":"lo","t":2007.03,"v":0.013},{"p":"g","s":"lo","t":2007.57,"v":0.027},{"p":"g","s":"lo","t":2008.03,"v":0.0134},{"p":"g","s":"lo","t":2008.57,"v":0.029},{"p":"g","s":"lo","t":2009.02,"v":0.014},{"p":"g","s":"lo","t":2009.58,"v":0.031},{"p":"g","s":"lo","t":2010.02,"v":0.0146},{"p":"g","s":"lo","t":2010.56,"v":0.032},{"p":"g","s":"lo","t":2011.02,"v":0.016},{"p":"g","s":"lo","t":2011.6,"v":0.032},{"p":"g","s":"lo","t":2012.04,"v":0.016},{"p":"g","s":"lo","t":2012.57,"v":0.035},{"p":"g","s":"lo","t":2013.02,"v":0.017},{"p":"g","s":"lo","t":2013.55,"v":0.036},{"p":"g","s":"lo","t":2014.03,"v":0.0155},{"p":"g","s":"lo","t":2014.53,"v":0.033},{"p":"g","s":"lo","t":2015.01,"v":0.015},{"p":"g","s":"lo","t":2015.53,"v":0.031},{"p":"g","s":"lo","t":2016.0,"v":0.0142}
    ]
  },
  "hconcat": [
    {
      "width": 508,
      "height": 532,
      "layer": [
        {
          "data": {"name": "obs"},
          "transform": [{"filter": "datum.p === 'a'"}],
          "mark": {"type": "point", "shape": "M-1,-1L1,1M-1,1L1,-1", "filled": false, "size": 290, "strokeWidth": 2.4, "color": "#2672a2", "opacity": 1},
          "encoding": {
            "x": {"field": "t", "type": "quantitative", "scale": {"domain": [2006, 2016], "nice": false, "zero": false},
              "axis": {"values": [2006, 2008, 2010, 2012, 2014, 2016], "format": "d", "labelAngle": -90, "labelAlign": "right", "labelBaseline": "middle", "labelFont": "Liberation Sans", "labelFontSize": 37, "labelPadding": 26, "labelFlush": false, "labelOverlap": false, "title": "Year", "titleX": 537, "titleAlign": "center", "titleFont": "'Liberation Sans Narrow', 'DejaVu Sans Condensed', sans-serif", "titleFontSize": 42, "titleFontWeight": "normal", "titlePadding": 38}},
            "y": {"field": "v", "type": "quantitative", "scale": {"type": "log", "domain": [0.001, 1000], "nice": false},
              "axis": {"values": [0.001, 0.01, 0.1, 1, 10, 100, 1000], "labelExpr": "datum.value >= 1 ? format(datum.value, 'd') : replace(format(datum.value, '.3~f'), '.', ',')", "labelFont": "DejaVu Sans", "labelFontSize": 36, "labelPadding": 51, "labelFlush": false, "labelOverlap": false, "title": "Air concentration (pg m⁻³)", "titleFont": "'Liberation Sans Narrow', 'DejaVu Sans Condensed', sans-serif", "titleFontSize": 44, "titleFontWeight": "normal", "titlePadding": 20}}
          }
        },
        {
          "data": {"name": "model"},
          "transform": [{"filter": "datum.p === 'a'"}],
          "mark": {"type": "line", "interpolate": "monotone", "color": "#ea4a3c", "strokeWidth": 3.8, "clip": true},
          "encoding": {
            "x": {"field": "t", "type": "quantitative"},
            "y": {"field": "v", "type": "quantitative"},
            "detail": {"field": "s"}
          }
        },
        {
          "data": {"values": [{}]},
          "mark": {"type": "text", "text": "α-HBCDD", "font": "DejaVu Sans", "fontSize": 38, "fontWeight": "bold", "align": "left", "baseline": "middle", "color": "black"},
          "encoding": {"x": {"datum": 2006.33}, "y": {"datum": 330}}
        }
      ]
    },
    {
      "width": 509,
      "height": 532,
      "layer": [
        {
          "data": {"name": "obs"},
          "transform": [{"filter": "datum.p === 'g'"}],
          "mark": {"type": "point", "shape": "M-1,-1L1,1M-1,1L1,-1", "filled": false, "size": 290, "strokeWidth": 2.4, "color": "#2672a2", "opacity": 1},
          "encoding": {
            "x": {"field": "t", "type": "quantitative", "scale": {"domain": [2006, 2016], "nice": false, "zero": false},
              "axis": {"values": [2006, 2008, 2010, 2012, 2014, 2016], "format": "d", "labelAngle": -90, "labelAlign": "right", "labelBaseline": "middle", "labelFont": "Liberation Sans", "labelFontSize": 37, "labelPadding": 26, "labelFlush": false, "labelOverlap": false, "title": null}},
            "y": {"field": "v", "type": "quantitative", "scale": {"type": "log", "domain": [0.001, 1000], "nice": false},
              "axis": {"values": [0.001, 0.01, 0.1, 1, 10, 100, 1000], "labels": false, "title": null, "minExtent": 0}}
          }
        },
        {
          "data": {"name": "model"},
          "transform": [{"filter": "datum.p === 'g'"}],
          "mark": {"type": "line", "interpolate": "monotone", "color": "#1aab4b", "strokeWidth": 3.2, "clip": true},
          "encoding": {
            "x": {"field": "t", "type": "quantitative"},
            "y": {"field": "v", "type": "quantitative"},
            "detail": {"field": "s"}
          }
        },
        {
          "data": {"values": [{}]},
          "mark": {"type": "text", "text": "γ-HBCDD", "font": "DejaVu Sans", "fontSize": 38, "fontWeight": "bold", "align": "left", "baseline": "middle", "color": "black"},
          "encoding": {"x": {"datum": 2006.33}, "y": {"datum": 330}}
        }
      ]
    }
  ],
  "config": {
    "view": {"stroke": "black", "strokeWidth": 2.5},
    "axis": {"domain": false, "grid": false, "ticks": true, "tickColor": "black", "tickWidth": 2.5, "tickSize": -10, "labelColor": "black", "titleColor": "black"}
  }
}
